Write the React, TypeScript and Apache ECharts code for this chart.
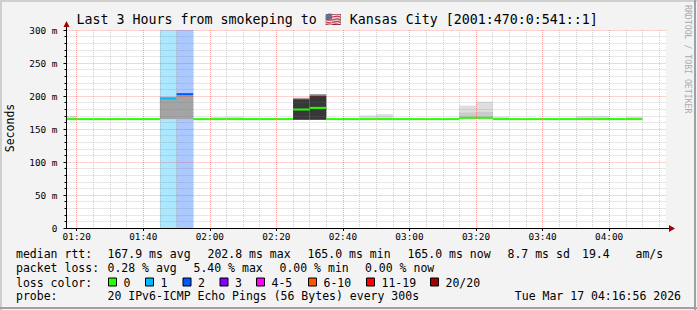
import React, { useEffect, useRef } from "react";
import * as echarts from "echarts";

// ---------- data ----------
const titleText =
  "Last 3 Hours from smokeping to \u{1F1FA}\u{1F1F8} Kansas City [2001:470:0:541::1]";
const rangeStart = "01:16:56";
const rangeEnd = "04:16:56";
const stepMinutes = 5;

const bucketStarts = [
  "01:15", "01:20", "01:25", "01:30", "01:35", "01:40", "01:45", "01:50", "01:55",
  "02:00", "02:05", "02:10", "02:15", "02:20", "02:25", "02:30", "02:35", "02:40",
  "02:45", "02:50", "02:55", "03:00", "03:05", "03:10", "03:15", "03:20", "03:25",
  "03:30", "03:35", "03:40", "03:45", "03:50", "03:55", "04:00", "04:05",
];
// median rtt in ms
const medianRtt = [
  165, 165, 165, 165, 165, 165, 196.5, 202.8, 165,
  165, 165, 165, 165, 165, 179.5, 182, 165, 165,
  165, 165, 165, 165, 165, 165, 167, 167, 165,
  165, 165, 165, 165, 165, 165, 165, 165,
];
// lost pings out of 20
const lossCount = [
  0, 0, 0, 0, 0, 0, 1, 2, 0,
  0, 0, 0, 0, 0, 0, 0, 0, 0,
  0, 0, 0, 0, 0, 0, 0, 0, 0,
  0, 0, 0, 0, 0, 0, 0, 0,
];
// smoke: bottom and tops of the shaded bands (ms), null = none
const smokeBottom = [
  165, 165, 165, 165, 165, 165, 165, 165, 165,
  165, 165, 165, 165, 165, 164, 164, 165, 165,
  165, 165, 165, 165, 165, 165, 165, 165, 165,
  165, 165, 165, 165, 165, 165, 165, 165,
];
const smokeLight = [
  169.5, null, null, null, null, null, null, null, null,
  168, 168.5, 167, 166, null, null, null, null, null,
  170.5, 172.5, null, null, null, null, 185.5, 191.5, 168.5,
  null, null, null, null, 169.5, 169.5, 167, 168.5,
];
const smokeMid = [
  null, null, null, null, null, null, null, null, null,
  null, null, null, null, null, null, null, null, null,
  null, null, null, null, null, null, 175, 176, null,
  null, null, null, null, null, null, null, null,
];
const smokeGray = [
  null, null, null, null, null, null, 197.5, 202, null,
  null, null, null, null, null, 197.5, 203, null, null,
  null, null, null, null, null, null, null, null, null,
  null, null, null, null, null, null, null, null,
];
const smokeDark = [
  null, null, null, null, null, null, null, null, null,
  null, null, null, null, null, 195, 200.5, null, null,
  null, null, null, null, null, null, null, null, null,
  null, null, null, null, null, null, null, null,
];

const lossLabels = ["0", "1", "2", "3", "4-5", "6-10", "11-19", "20/20"];
const lossUpper = [0, 1, 2, 3, 5, 10, 19, 20];
const lossColors = ["#26ff00", "#00b8ff", "#0059ff", "#7e00ff", "#ff00ff", "#ff5500", "#ff0000", "#a10000"];

const rttLabel = "median rtt:";
const rttStats = ["167.9 ms avg", "202.8 ms max", "165.0 ms min", "165.0 ms now", "8.7 ms sd", "19.4", "am/s"];
const lossLabel = "packet loss:";
const lossStats = ["0.28 % avg", "5.40 % max", "0.00 % min", "0.00 % now"];
const lossColorLabel = "loss color:";
const probeLabel = "probe:";
const probeText = "20 IPv6-ICMP Echo Pings (56 Bytes) every 300s";
const dateText = "Tue Mar 17 04:16:56 2026";
const yAxisName = "Seconds";
const sideText = "RRDTOOL / TOBI OETIKER";

// ---------- helpers ----------
const toMin = (s: string) => {
  const p = s.split(":").map(Number);
  return p[0] * 60 + p[1] + (p[2] || 0) / 60;
};
const pad = (n: number) => String(n).padStart(2, "0");
const fmtTime = (v: number) => {
  const m = Math.round(v);
  return `${pad(Math.floor(m / 60))}:${pad(m % 60)}`;
};
const lossColorOf = (n: number) => lossColors[lossUpper.findIndex((u) => n <= u)];

const MONO = "DejaVu Sans Mono";
const MAJOR = "rgba(255,0,0,0.36)";
const MINOR = "rgba(120,120,120,0.35)";

function bandSeries(tops: (number | null)[], color: string) {
  const data = bucketStarts
    .map((s, i) => [toMin(s), smokeBottom[i], tops[i]])
    .filter((d) => d[2] != null);
  return {
    type: "custom",
    silent: true,
    data,
    encode: { x: 0, y: [1, 2] },
    renderItem: (params: any, api: any) => {
      const t = api.value(0);
      const lo = api.value(1);
      const hi = api.value(2);
      const p0 = api.coord([t, hi]);
      const p1 = api.coord([t + stepMinutes, lo]);
      const rect = echarts.graphic.clipRectByRect(
        { x: p0[0], y: p0[1], width: p1[0] - p0[0], height: p1[1] - p0[1] },
        params.coordSys
      );
      if (!rect) return null;
      return { type: "rect", shape: rect, style: { fill: color } };
    },
  };
}

export default function App() {
  const ref = useRef<HTMLDivElement>(null);
  useEffect(() => {
    if (!ref.current) return;
    const chart = echarts.init(ref.current, null, { renderer: "svg" });

    const lossData = bucketStarts
      .map((s, i) => [toMin(s), lossCount[i]])
      .filter((d) => d[1] > 0);
    const medianData = bucketStarts.map((s, i) => [toMin(s), medianRtt[i], lossCount[i]]);

    const textStyle = (size: number) => ({ fontFamily: MONO, fontSize: size, fill: "#000" });
    const rowY = [254, 268, 282.5, 296];
    const valX = 107.5;
    const rttX = [107.5, 207.5, 307.5, 407.5, 507.5, 582, 635.5];
    const lossX = [107.5, 193.5, 279.5, 365];
    const swatchX = [108, 145, 182.5, 219.5, 256, 308, 366, 430];

    const graphics: any[] = [
      // frame
      { type: "rect", shape: { x: 0, y: 0, width: 697, height: 2 }, style: { fill: "#cfcfcf" } },
      { type: "rect", shape: { x: 0, y: 0, width: 2, height: 310 }, style: { fill: "#cfcfcf" } },
      { type: "rect", shape: { x: 694, y: 0, width: 2, height: 310 }, style: { fill: "#a0a0a0" } },
      { type: "rect", shape: { x: 0, y: 307, width: 697, height: 2 }, style: { fill: "#a0a0a0" } },
      // title
      {
        type: "text", x: 76.5, y: 19,
        style: { text: titleText, align: "left", verticalAlign: "middle", ...textStyle(13.3) },
      },
      // axis extensions and arrows
      { type: "line", shape: { x1: 665, y1: 228.5, x2: 669, y2: 228.5 }, style: { stroke: "#000", lineWidth: 1 } },
      { type: "polygon", shape: { points: [[669, 225], [675, 228.5], [669, 232]] }, style: { fill: "#a00000" } },
      { type: "line", shape: { x1: 66.5, y1: 30, x2: 66.5, y2: 26 }, style: { stroke: "#000", lineWidth: 1 } },
      { type: "polygon", shape: { points: [[63.5, 27], [66.5, 21], [69.5, 27]] }, style: { fill: "#a00000" } },
      // y axis name
      {
        type: "text", x: 10, y: 128, rotation: Math.PI / 2,
        style: { text: yAxisName, align: "center", verticalAlign: "middle", ...textStyle(11.5) },
      },
      // side credit
      {
        type: "text", x: 688, y: 5, rotation: -Math.PI / 2,
        style: { text: sideText, align: "left", verticalAlign: "middle", fontFamily: MONO, fontSize: 8.2, fill: "#ababab" },
      },
      // legend rows
      { type: "text", x: 16, y: rowY[0], style: { text: rttLabel, verticalAlign: "middle", ...textStyle(11.5) } },
      ...rttStats.map((s, i) => ({
        type: "text", x: rttX[i], y: rowY[0], style: { text: s, verticalAlign: "middle", ...textStyle(11.5) },
      })),
      { type: "text", x: 16, y: rowY[1], style: { text: lossLabel, verticalAlign: "middle", ...textStyle(11.5) } },
      ...lossStats.map((s, i) => ({
        type: "text", x: lossX[i], y: rowY[1], style: { text: s, verticalAlign: "middle", ...textStyle(11.5) },
      })),
      { type: "text", x: 16, y: rowY[2], style: { text: lossColorLabel, verticalAlign: "middle", ...textStyle(11.5) } },
      ...lossLabels.flatMap((s, i) => [
        {
          type: "rect", shape: { x: swatchX[i] + 0.5, y: rowY[2] - 4.5, width: 8, height: 8 },
          style: { fill: lossColors[i], stroke: "#000", lineWidth: 1 },
        },
        {
          type: "text", x: swatchX[i] + 15.5, y: rowY[2],
          style: { text: s, verticalAlign: "middle", ...textStyle(11.5) },
        },
      ]),
      { type: "text", x: 16, y: rowY[3], style: { text: probeLabel, verticalAlign: "middle", ...textStyle(11.5) } },
      { type: "text", x: valX, y: rowY[3], style: { text: probeText, verticalAlign: "middle", ...textStyle(11.5) } },
      { type: "text", x: 681, y: rowY[3], style: { text: dateText, align: "right", verticalAlign: "middle", ...textStyle(11.5) } },
    ];

    chart.setOption({
      animation: false,
      backgroundColor: "#f3f3f3",
      grid: {
        left: 66.5, top: 30, right: 31.5, bottom: 82,
        show: true, backgroundColor: "#ffffff", borderWidth: 0, containLabel: false,
      },
      xAxis: {
        type: "value",
        min: toMin(rangeStart),
        max: toMin(rangeEnd),
        splitNumber: 9,
        z: 5,
        axisLine: { show: true, onZero: false, lineStyle: { color: "#000", width: 1 } },
        axisTick: { show: true, length: 3, lineStyle: { color: "#000" } },
        minorTick: { show: false, splitNumber: 4 },
        axisLabel: {
          formatter: fmtTime, showMinLabel: false, showMaxLabel: false, margin: 4,
          fontFamily: MONO, fontSize: 9.4, color: "#000",
        },
        splitLine: { show: true, showMinLine: false, showMaxLine: false, lineStyle: { color: MAJOR, type: [1, 1], width: 1 } },
        minorSplitLine: { show: true, lineStyle: { color: MINOR, type: [1, 1], width: 1 } },
      },
      yAxis: {
        type: "value",
        min: 0,
        max: 300,
        interval: 50,
        z: 5,
        axisLine: { show: true, lineStyle: { color: "#000", width: 1 } },
        axisTick: { show: true, length: 3, lineStyle: { color: "#000" } },
        minorTick: { show: true, splitNumber: 5, length: 2, lineStyle: { color: "#000" } },
        axisLabel: {
          formatter: (v: number) => (v === 0 ? "0" : `${v} m`), margin: 9,
          fontFamily: MONO, fontSize: 9.4, color: "#000",
        },
        splitLine: { show: true, showMinLine: false, lineStyle: { color: MAJOR, type: [1, 1], width: 1 } },
        minorSplitLine: { show: true, lineStyle: { color: MINOR, type: [1, 1], width: 1 } },
      },
      series: [
        {
          type: "custom",
          silent: true,
          data: lossData,
          encode: { x: 0, y: 1 },
          renderItem: (params: any, api: any) => {
            const t = api.value(0);
            const n = api.value(1);
            const p0 = api.coord([t, 300]);
            const p1 = api.coord([t + stepMinutes, 0]);
            const rect = echarts.graphic.clipRectByRect(
              { x: p0[0], y: p0[1], width: p1[0] - p0[0], height: p1[1] - p0[1] },
              params.coordSys
            );
            if (!rect) return null;
            return { type: "rect", shape: rect, style: { fill: lossColorOf(n), opacity: 0.33 } };
          },
        },
        bandSeries(smokeLight, "#dedede"),
        bandSeries(smokeMid, "#cbcbcb"),
        bandSeries(smokeGray, "#a4a4a4"),
        bandSeries(smokeDark, "#373737"),
        {
          type: "custom",
          silent: true,
          data: medianData,
          encode: { x: 0, y: 1 },
          renderItem: (params: any, api: any) => {
            const t = api.value(0);
            const v = api.value(1);
            const n = api.value(2);
            const a = api.coord([t, v]);
            const b = api.coord([t + stepMinutes, v]);
            const cs = params.coordSys;
            const x1 = Math.max(a[0], cs.x);
            const x2 = Math.min(b[0], cs.x + cs.width);
            if (x2 <= x1) return null;
            return {
              type: "line",
              shape: { x1, y1: a[1], x2, y2: a[1] },
              style: { stroke: lossColorOf(n), lineWidth: 2 },
            };
          },
        },
      ],
      graphic: graphics,
    });
    return () => chart.dispose();
  }, []);

  return (
    <div
      ref={ref}
      style={{ position: "fixed", left: 0, top: 0, width: 697, height: 310 }}
    />
  );
}
